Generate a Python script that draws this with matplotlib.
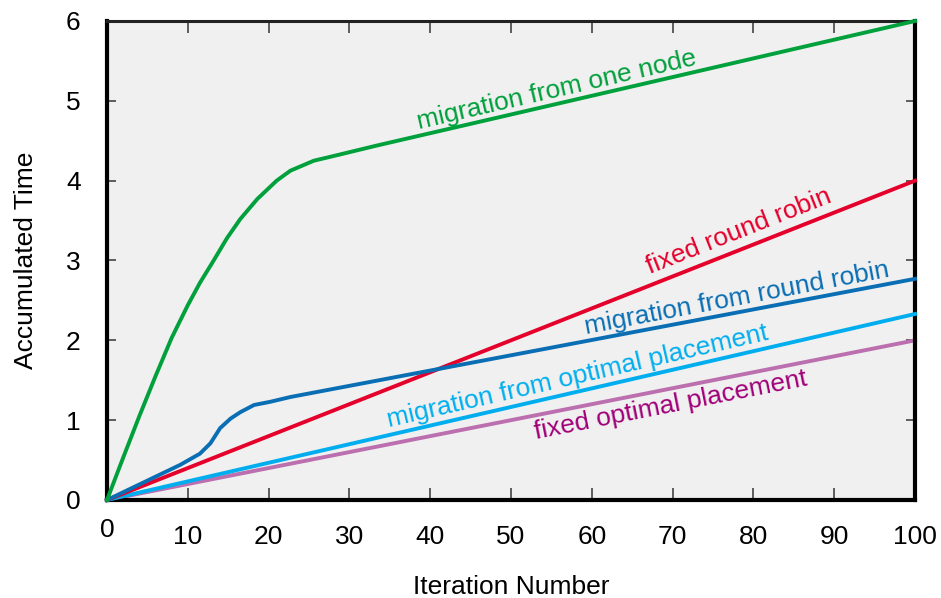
import numpy as np
import matplotlib
matplotlib.use("Agg")
import matplotlib.pyplot as plt

# ------------------------------------------------------------------
# data
# ------------------------------------------------------------------
one_node_x = [0, 2, 4, 6, 8, 10, 11.5, 13.2, 14.85, 16.5, 18.6, 21.0,
              22.7, 25.6, 28.1, 33.4, 100]
one_node_y = [0, 0.53, 1.05, 1.55, 2.03, 2.44, 2.72, 3.0, 3.28, 3.52, 3.77, 4.0,
              4.125, 4.25, 4.31, 4.44, 6.0]

mig_rr_x = [0, 9.06, 11.5, 12.8, 14.0, 15.3, 16.5, 18.2, 20.2, 22.7, 100]
mig_rr_y = [0, 0.44, 0.58, 0.71, 0.90, 1.02, 1.10, 1.19, 1.23, 1.29, 2.77]

fixed_rr_x = [0, 100]
fixed_rr_y = [0, 4.0]

mig_opt_x = [0, 100]
mig_opt_y = [0, 2.33]

fixed_opt_x = [0, 100]
fixed_opt_y = [0, 2.0]

x_ticks = [0, 10, 20, 30, 40, 50, 60, 70, 80, 90, 100]
y_ticks = [0, 1, 2, 3, 4, 5, 6]

# ------------------------------------------------------------------
# style
# ------------------------------------------------------------------
plt.rcParams.update({
    'font.family': ['Liberation Sans', 'DejaVu Sans'],
    'font.size': 19,
    'lines.solid_joinstyle': 'round',
})

GREEN = '#00a03c'
RED = '#e4002b'
BLUE = '#0a6eb4'
LIGHT = '#00aeef'
PURPLE_LINE = '#bb6fae'
PURPLE_TEXT = '#a00078'

fig = plt.figure(figsize=(9.41, 5.98), dpi=100)
ax = fig.add_axes([0.1137, 0.1639, 0.9724 - 0.1137, 0.9649 - 0.1639])
ax.set_facecolor('#f0f0f0')

lw = 2.8
ax.plot(fixed_opt_x, fixed_opt_y, color=PURPLE_LINE, lw=lw, clip_on=False, zorder=2)
ax.plot(mig_opt_x, mig_opt_y, color=LIGHT, lw=lw, clip_on=False, zorder=3)
ax.plot(fixed_rr_x, fixed_rr_y, color=RED, lw=lw, clip_on=False, zorder=3)
ax.plot(mig_rr_x, mig_rr_y, color=BLUE, lw=lw, clip_on=False, zorder=4)
ax.plot(one_node_x, one_node_y, color=GREEN, lw=lw, clip_on=False, zorder=4)

ax.set_xlim(0, 100)
ax.set_ylim(0, 6)

# curve labels, rotated along the last segment of each series
def label(txt, x, y, xs, ys, color):
    slope = (ys[-1] - ys[-2]) / (xs[-1] - xs[-2])
    ax.text(x, y, txt, color=color, ha='center', va='center',
            rotation=np.degrees(np.arctan(slope)), transform_rotates_text=True,
            rotation_mode='anchor', fontsize=19)

label('migration from one node', 55.6, 5.14, one_node_x, one_node_y, GREEN)
label('fixed round robin', 78.2, 3.36, fixed_rr_x, fixed_rr_y, RED)
label('migration from round robin', 78.0, 2.53, mig_rr_x, mig_rr_y, BLUE)
label('migration from optimal placement', 58.2, 1.55, mig_opt_x, mig_opt_y, LIGHT)
label('fixed optimal placement', 69.8, 1.19, fixed_opt_x, fixed_opt_y, PURPLE_TEXT)

# ticks
ax.set_xticks(x_ticks)
ax.set_yticks(y_ticks)
ax.tick_params(axis='x', direction='in', length=8.5, width=1.2, color='#444444',
               top=True, pad=18, labelsize=19)
ax.tick_params(axis='y', direction='in', length=6.5, width=1.2, color='#444444',
               right=True, pad=19, labelsize=19)
ax.xaxis.get_major_ticks()[0].set_pad(13)

for side in ['left', 'right', 'bottom']:
    ax.spines[side].set_linewidth(3)
ax.spines['top'].set_linewidth(2.2)
ax.spines['top'].set_color('#222222')

ax.set_xlabel('Iteration Number', fontsize=19, labelpad=18.5)
ax.set_ylabel('Accumulated Time', fontsize=19, labelpad=20)

fig.savefig('out.png', dpi=100)
